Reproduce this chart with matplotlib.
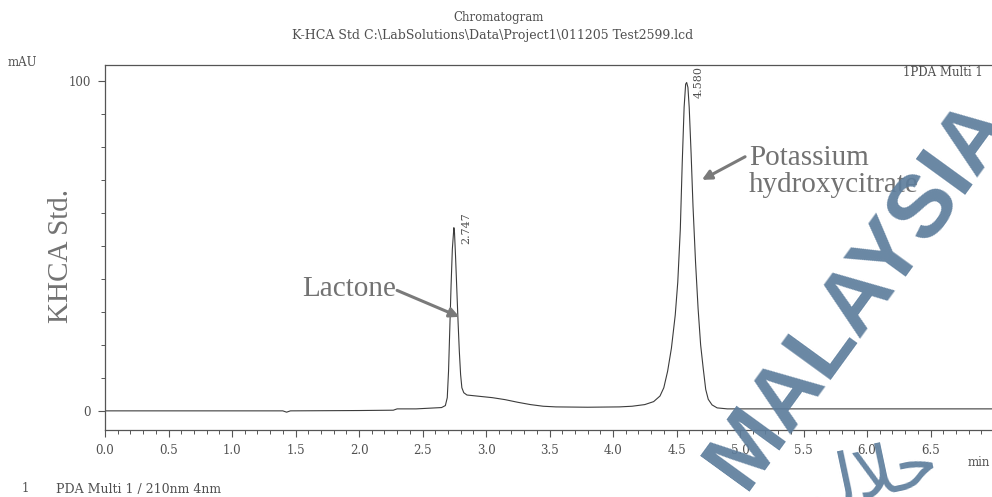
import matplotlib
matplotlib.use("Agg")
import matplotlib.pyplot as plt
from matplotlib.ticker import MultipleLocator, FormatStrFormatter

# retention time (min) and detector response (mAU), PDA 210 nm
time_min = [0.00, 0.50, 1.00, 1.40, 1.43, 1.46, 2.00, 2.27, 2.30, 2.45, 2.55, 2.65,
            2.68, 2.695, 2.705, 2.715, 2.725, 2.735, 2.747, 2.752, 2.76, 2.77, 2.78,
            2.79, 2.80, 2.81, 2.825, 2.85, 2.95, 3.05, 3.15, 3.25, 3.35, 3.45, 3.55,
            3.80, 4.05, 4.15, 4.25, 4.32, 4.37, 4.40, 4.43, 4.46, 4.49, 4.51, 4.53,
            4.545, 4.56, 4.572, 4.580, 4.59, 4.60, 4.615, 4.63, 4.65, 4.67, 4.69,
            4.71, 4.73, 4.75, 4.78, 4.82, 4.90, 5.50, 6.50, 7.50]
signal_mau = [0.0, 0.0, 0.0, 0.0, -0.4, 0.0, 0.1, 0.2, 0.6, 0.6, 0.8, 1.0,
              1.6, 4.0, 12.0, 25.0, 38.0, 49.0, 55.5, 54.0, 47.0, 37.0, 27.0,
              18.0, 11.0, 7.0, 5.5, 4.8, 4.4, 4.0, 3.4, 2.6, 1.9, 1.4, 1.2,
              1.1, 1.2, 1.4, 1.9, 2.8, 4.5, 7.0, 12.0, 19.0, 29.0, 39.0, 55.0,
              75.0, 92.0, 99.0, 99.5, 98.0, 92.0, 78.0, 62.0, 45.0, 31.0, 20.0,
              13.0, 6.5, 3.5, 1.8, 0.9, 0.6, 0.6, 0.6, 0.6]

peak_times = [2.747, 4.580]
peak_heights = [55.5, 99.5]
peak_labels = ["2.747", "4.580"]

x_ticks = [0.0, 0.5, 1.0, 1.5, 2.0, 2.5, 3.0, 3.5, 4.0, 4.5, 5.0, 5.5, 6.0, 6.5]
y_ticks = [0, 100]

W, H = 992, 497
serif = "Liberation Serif"
small = "DejaVu Serif"
ink = "#505050"
note = "#727272"

fig = plt.figure(figsize=(W / 100, H / 100), dpi=100)
ax = fig.add_axes([105 / W, 67 / H, 952.5 / W, 365 / H])

ax.plot(time_min, signal_mau, color="#3c3c3c", lw=0.8)

ax.set_xlim(0, 7.5)
ax.set_ylim(-5.8, 104.8)
ax.set_xticks(x_ticks)
ax.xaxis.set_minor_locator(MultipleLocator(0.1))
ax.xaxis.set_major_formatter(FormatStrFormatter("%.1f"))
ax.set_yticks(y_ticks)
ax.yaxis.set_minor_locator(MultipleLocator(10))
ax.tick_params(which="major", length=5, width=0.8, color="#555555",
               labelsize=8.5, labelcolor=ink, pad=5)
ax.tick_params(which="minor", length=3, width=0.7, color="#555555")
for lab in ax.get_xticklabels() + ax.get_yticklabels():
    lab.set_family(small)
for sp in ax.spines.values():
    sp.set_color("#555555")
    sp.set_linewidth(0.9)

# retention time labels beside each apex
for t, h, lab in zip(peak_times, peak_heights, peak_labels):
    ax.annotate(lab, xy=(t, h), xytext=(9, 0), textcoords="offset points",
                rotation=90, ha="center", va="center", fontsize=8,
                family=small, color=ink)

arrow = dict(arrowstyle="-|>", color="#7a7a7a", lw=2.2, mutation_scale=14,
             shrinkA=0, shrinkB=0)
ax.text(2.29, 37.0, "Lactone", ha="right", va="center", fontsize=21,
        family=serif, color=note)
ax.annotate("", xy=(2.79, 28.5), xytext=(2.30, 36.5), arrowprops=arrow)
ax.annotate("", xy=(4.70, 70.0), xytext=(5.04, 77.0), arrowprops=arrow)
ax.text(5.07, 72.5, "Potassium\nhydroxycitrate", ha="left", va="center",
        fontsize=21, family=serif, color=note, linespacing=1.08)

ax.text(-0.35, 47, "KHCA Std.", rotation=90, ha="center", va="center",
        fontsize=21, family=serif, color=note)

def ftext(x, y, s, size=8.5, **kw):
    fig.text(x / W, 1 - y / H, s, family=small, color=ink, fontsize=size, **kw)

ftext(499, 18, "Chromatogram", ha="center", va="center")
ftext(493, 36, "K-HCA Std C:\\LabSolutions\\Data\\Project1\\011205 Test2599.lcd",
      size=9, ha="center", va="center")
ftext(8, 63, "mAU", ha="left", va="center")
ftext(903, 72, "1PDA Multi 1", ha="left", va="center")
ftext(968, 462, "min", ha="left", va="center")
ftext(25, 489, "1", ha="center", va="center")
ftext(56, 489, "PDA Multi 1 / 210nm 4nm", size=9, ha="left", va="center")

# halal certification stamp across the lower right
stamp = "#5d7d9c"
fig.text(860 / W, 1 - 293 / H, "MALAYSIA", rotation=54, rotation_mode="anchor",
         ha="center", va="center", fontsize=64, fontweight="bold",
         family="Liberation Sans", color=stamp, alpha=0.92, zorder=10)
fig.text(872 / W, 1 - 476 / H, "\ufedd\ufefc\ufea3", rotation=12,
         rotation_mode="anchor", ha="center", va="center", fontsize=50,
         family="DejaVu Sans", color=stamp, alpha=0.92, zorder=10)

fig.savefig("out.png", dpi=100)
